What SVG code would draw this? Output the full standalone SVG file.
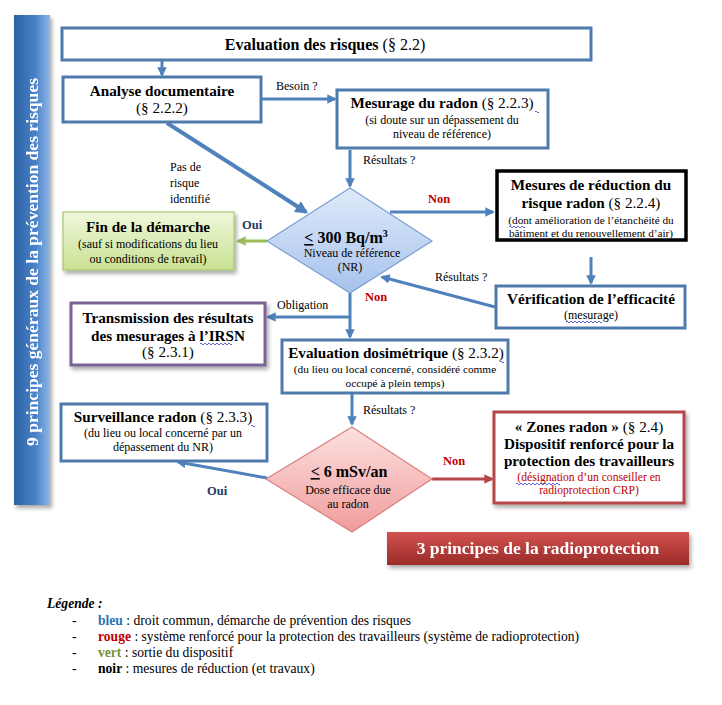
<svg xmlns="http://www.w3.org/2000/svg" width="722" height="705" viewBox="0 0 722 705" font-family="'Liberation Serif', 'DejaVu Serif', serif">
<defs>
<style>
svg text, svg tspan{font-family:'Liberation Serif','DejaVu Serif',serif}
text{fill:#000}
.h{font-size:15.2px;font-weight:bold}
.n{font-size:15.2px;font-weight:normal}
.s{font-size:12px}
.xs{font-size:11.2px}
.lbl{font-size:12px}
.box{fill:#fff;stroke:#4f7aac;stroke-width:3}
.con{fill:none;stroke:#4f81bd;stroke-width:3}
.non{font-size:12.5px;font-weight:bold;fill:#c00000}
.oui{font-size:12.5px;font-weight:bold;fill:#1f3864}
.leg{font-size:13.6px}
.sq{fill:none;stroke:#3c3cc8;stroke-width:0.8}
</style>
<linearGradient id="gSide" x1="0" y1="0" x2="1" y2="0">
<stop offset="0" stop-color="#2d62a6"/><stop offset="0.6" stop-color="#4a82c8"/><stop offset="1" stop-color="#8fb6e6"/>
</linearGradient>
<linearGradient id="gBlue" x1="0" y1="0" x2="0" y2="1">
<stop offset="0" stop-color="#dfeafa"/><stop offset="1" stop-color="#a6c2ec"/>
</linearGradient>
<linearGradient id="gPink" x1="0" y1="0" x2="0" y2="1">
<stop offset="0" stop-color="#fde0e0"/><stop offset="1" stop-color="#f09c9c"/>
</linearGradient>
<linearGradient id="gGreen" x1="0" y1="0" x2="0" y2="1">
<stop offset="0" stop-color="#f0f8dc"/><stop offset="1" stop-color="#c8e191"/>
</linearGradient>
<linearGradient id="gRed" x1="0" y1="0" x2="0" y2="1">
<stop offset="0" stop-color="#d2524f"/><stop offset="1" stop-color="#9a2b28"/>
</linearGradient>
<filter id="sh" x="-10%" y="-10%" width="125%" height="135%">
<feGaussianBlur in="SourceAlpha" stdDeviation="2"/>
<feOffset dx="2" dy="3" result="b"/>
<feComponentTransfer><feFuncA type="linear" slope="0.35"/></feComponentTransfer>
<feMerge><feMergeNode/><feMergeNode in="SourceGraphic"/></feMerge>
</filter>
<marker id="aB" viewBox="0 0 10 10" refX="8" refY="5" markerWidth="3.2" markerHeight="3.2" orient="auto" markerUnits="strokeWidth">
<path d="M0,0 L10,5 L0,10 Z" fill="#4f81bd"/>
</marker>
<marker id="aG" viewBox="0 0 10 10" refX="8" refY="5" markerWidth="3.2" markerHeight="3.2" orient="auto" markerUnits="strokeWidth">
<path d="M0,0 L10,5 L0,10 Z" fill="#9bbb59"/>
</marker>
<marker id="aR" viewBox="0 0 10 10" refX="8" refY="5" markerWidth="3.2" markerHeight="3.2" orient="auto" markerUnits="strokeWidth">
<path d="M0,0 L10,5 L0,10 Z" fill="#b5474a"/>
</marker>
</defs>
<rect width="722" height="705" fill="#fff"/>

<g id="sidebar" filter="url(#sh)">
<rect x="14" y="15" width="36" height="490" fill="url(#gSide)"/>
<text transform="translate(38,262) rotate(-90)" text-anchor="middle" style="font-size:16px;font-weight:bold;fill:#fff" textLength="368" lengthAdjust="spacingAndGlyphs">9 principes généraux de la prévention des risques</text>
</g>

<g id="connectors">
<line class="con" x1="162" y1="61" x2="162" y2="75" marker-end="url(#aB)"/>
<line class="con" x1="262" y1="99" x2="335" y2="99" marker-end="url(#aB)"/>
<line class="con" x1="350" y1="150" x2="350" y2="186" marker-end="url(#aB)"/>
<line class="con" style="stroke-width:4" x1="167" y1="123" x2="306" y2="212" marker-end="url(#aB)"/>
<line x1="267" y1="241" x2="238" y2="241" style="stroke:#9bbb59;stroke-width:3" marker-end="url(#aG)"/>
<line class="con" x1="390" y1="212" x2="493" y2="212" marker-end="url(#aB)"/>
<line class="con" x1="591" y1="257" x2="591" y2="283" marker-end="url(#aB)"/>
<line class="con" x1="495" y1="307" x2="382" y2="277" marker-end="url(#aB)"/>
<line class="con" x1="350" y1="293" x2="350" y2="337" marker-end="url(#aB)"/>
<line class="con" x1="350" y1="317" x2="268" y2="317" marker-end="url(#aB)"/>
<line class="con" x1="352" y1="394" x2="352" y2="424" marker-end="url(#aB)"/>
<line class="con" x1="267" y1="478" x2="178" y2="462" marker-end="url(#aB)"/>
<line x1="432" y1="479" x2="492" y2="479" style="stroke:#b5474a;stroke-width:3" marker-end="url(#aR)"/>
</g>

<g id="labels">
<text class="lbl" x="276" y="90">Besoin ?</text>
<text class="lbl" x="363" y="164">Résultats ?</text>
<text class="lbl" x="170" y="171">Pas de</text>
<text class="lbl" x="170" y="187">risque</text>
<text class="lbl" x="170" y="203">identifié</text>
<text class="oui" x="242" y="229">Oui</text>
<text class="non" x="428" y="203">Non</text>
<text class="lbl" x="435" y="281">Résultats ?</text>
<text class="non" x="365" y="301">Non</text>
<text class="lbl" x="277" y="309">Obligation</text>
<text class="lbl" x="363" y="414">Résultats ?</text>
<text class="non" x="443" y="465">Non</text>
<text class="oui" x="207" y="495">Oui</text>
</g>

<g id="eval-risques">
<rect class="box" x="62" y="28" width="529" height="32"/>
<text x="325" y="50" text-anchor="middle"><tspan style="font-size:16px;font-weight:bold">Evaluation des risques </tspan><tspan style="font-size:16px">(§ 2.2)</tspan></text>
</g>

<g id="analyse">
<rect class="box" x="63" y="77" width="198" height="45"/>
<text class="h" x="162" y="96" text-anchor="middle">Analyse documentaire</text>
<text class="n" x="162" y="113" text-anchor="middle">(§ 2.2.2)</text>
</g>

<g id="mesurage">
<rect class="box" x="337" y="90" width="211" height="58"/>
<text x="442" y="108" text-anchor="middle"><tspan class="h">Mesurage du radon </tspan><tspan class="n">(§ 2.2.3)</tspan></text>
<text class="s" x="442" y="124" text-anchor="middle">(si doute sur un dépassement du</text>
<text class="s" x="442" y="138" text-anchor="middle">niveau de référence)</text>
<path class="sq" d="M535,112 q1,-2 2,0 q1,2 2,0"/>
</g>

<g id="seuil-radon">
<polygon points="350,188 432,241 350,293 267,241" fill="url(#gBlue)" stroke="#7c9fd0" stroke-width="1.2"/>
<text x="346" y="243" text-anchor="middle" style="font-size:16px;font-weight:bold"><tspan text-decoration="underline">&lt;</tspan> 300 Bq/m<tspan style="font-size:10px" dy="-6">3</tspan></text>
<text class="s" x="352" y="257" text-anchor="middle">Niveau de référence</text>
<text class="s" x="350" y="271" text-anchor="middle">(NR)</text>
</g>

<g id="fin">
<rect x="63" y="212" width="171" height="58" fill="url(#gGreen)" stroke="#a9c66e" stroke-width="1.2" filter="url(#sh)"/>
<text class="h" x="148" y="232" text-anchor="middle">Fin de la démarche</text>
<text class="s" x="148" y="248" text-anchor="middle">(sauf si modifications  du lieu</text>
<text class="s" x="148" y="263" text-anchor="middle">ou conditions  de travail)</text>
</g>

<g id="mesures-reduction">
<rect x="497" y="171" width="189" height="69" fill="#fff" stroke="#000" stroke-width="3.5"/>
<text class="h" x="591" y="190" text-anchor="middle">Mesures de réduction du</text>
<text x="591" y="208" text-anchor="middle"><tspan class="h">risque radon </tspan><tspan class="n">(§ 2.2.4)</tspan></text>
<text class="xs" x="591" y="224" text-anchor="middle">(dont amélioration de l’étanchéité du</text>
<text class="xs" x="591" y="237" text-anchor="middle">bâtiment et du renouvellement d’air)</text>
<path class="sq" d="M509,227 q1,-2 2,0 q1,2 2,0 q1,-2 2,0 q1,2 2,0 q1,-2 2,0 q1,2 2,0 q1,-2 2,0 q1,2 2,0"/>
</g>

<g id="verification">
<rect class="box" x="496" y="286" width="189" height="42"/>
<text class="h" x="591" y="304" text-anchor="middle">Vérification de l’efficacité</text>
<text class="s" x="591" y="319" text-anchor="middle">(mesurage)</text>
<path class="sq" d="M566,322 q1,-2 2,0 q1,2 2,0 q1,-2 2,0 q1,2 2,0 q1,-2 2,0 q1,2 2,0 q1,-2 2,0 q1,2 2,0 q1,-2 2,0 q1,2 2,0 q1,-2 2,0 q1,2 2,0 q1,-2 2,0 q1,2 2,0 q1,-2 2,0 q1,2 2,0 q1,-2 2,0 q1,2 2,0"/>
</g>

<g id="transmission">
<rect x="71" y="303" width="194" height="62" fill="#fff" stroke="#7b6496" stroke-width="3" filter="url(#sh)"/>
<text class="h" x="168" y="323" text-anchor="middle">Transmission des résultats</text>
<text class="h" x="168" y="341" text-anchor="middle">des mesurages à l’IRSN</text>
<text class="n" x="168" y="357" text-anchor="middle">(§ 2.3.1)</text>
<path class="sq" d="M200,344 q1,-2 2,0 q1,2 2,0 q1,-2 2,0 q1,2 2,0 q1,-2 2,0 q1,2 2,0 q1,-2 2,0 q1,2 2,0 q1,-2 2,0 q1,2 2,0 q1,-2 2,0 q1,2 2,0 q1,-2 2,0 q1,2 2,0 q1,-2 2,0 q1,2 2,0"/>
</g>

<g id="eval-dosimetrique">
<rect class="box" x="282" y="340" width="226" height="53"/>
<text x="396" y="358" text-anchor="middle"><tspan class="h">Evaluation dosimétrique </tspan><tspan class="n">(§ 2.3.2)</tspan></text>
<text x="395" y="373" text-anchor="middle" style="font-size:11.3px">(du lieu ou local concerné, considéré comme</text>
<text x="395" y="387" text-anchor="middle" style="font-size:11.3px">occupé à plein temps)</text>
<path class="sq" d="M500,362 q1,-2 2,0 q1,2 2,0"/>
</g>

<g id="surveillance">
<rect class="box" x="61" y="404" width="206" height="57"/>
<text x="163" y="422" text-anchor="middle"><tspan class="h">Surveillance radon </tspan><tspan class="n">(§ 2.3.3)</tspan></text>
<text class="s" x="163" y="437" text-anchor="middle">(du lieu ou local concerné par un</text>
<text class="s" x="163" y="451" text-anchor="middle">dépassement du NR)</text>
<path class="sq" d="M251,426 q1,-2 2,0 q1,2 2,0"/>
</g>

<g id="seuil-dose">
<polygon points="352,427 432,479 352,532 266,479" fill="url(#gPink)" stroke="#d98080" stroke-width="1.2"/>
<text x="349" y="477" text-anchor="middle" style="font-size:16px;font-weight:bold"><tspan text-decoration="underline">&lt;</tspan> 6 mSv/an</text>
<text class="s" x="348" y="494" text-anchor="middle">Dose efficace  due</text>
<text class="s" x="348" y="508" text-anchor="middle">au radon</text>
</g>

<g id="zones-radon">
<rect x="494" y="412" width="190" height="91" fill="#fff" stroke="#b5474a" stroke-width="3" filter="url(#sh)"/>
<text x="589" y="432" text-anchor="middle"><tspan class="h">« Zones radon » </tspan><tspan class="n">(§ 2.4)</tspan></text>
<text class="h" x="589" y="449" text-anchor="middle">Dispositif renforcé pour la</text>
<text class="h" x="589" y="466" text-anchor="middle">protection des travailleurs</text>
<text x="589" y="481" text-anchor="middle" style="font-size:11.6px;fill:#c00000">(désignation d’un conseiller  en</text>
<text x="589" y="494" text-anchor="middle" style="font-size:11.6px;fill:#c00000">radioprotection  CRP)</text>
<path class="sq" d="M516,484 q1,-2 2,0 q1,2 2,0 q1,-2 2,0 q1,2 2,0 q1,-2 2,0 q1,2 2,0 q1,-2 2,0 q1,2 2,0 q1,-2 2,0 q1,2 2,0 q1,-2 2,0 q1,2 2,0 q1,-2 2,0 q1,2 2,0 q1,-2 2,0 q1,2 2,0 q1,-2 2,0 q1,2 2,0 q1,-2 2,0 q1,2 2,0 q1,-2 2,0 q1,2 2,0"/>
</g>

<g id="radioprotection" filter="url(#sh)">
<rect x="387" y="532" width="302" height="33" fill="url(#gRed)"/>
<text x="538" y="554" text-anchor="middle" style="font-size:17.5px;font-weight:bold;fill:#fff">3 principes de la radioprotection</text>
</g>

<g id="legende">
<text x="47" y="608" style="font-size:13.6px;font-weight:bold;font-style:italic">Légende :</text>
<text class="leg" x="72" y="625">-</text>
<text class="leg" x="98" y="625"><tspan style="font-weight:bold;fill:#2e74b5">bleu</tspan> : droit commun, démarche de prévention des risques</text>
<text class="leg" x="72" y="641">-</text>
<text class="leg" x="98" y="641"><tspan style="font-weight:bold;fill:#c00000">rouge</tspan> : système renforcé pour la protection des travailleurs (système de radioprotection)</text>
<text class="leg" x="72" y="657">-</text>
<text class="leg" x="98" y="657"><tspan style="font-weight:bold;fill:#76923c">vert</tspan> : sortie du dispositif</text>
<text class="leg" x="72" y="673">-</text>
<text class="leg" x="98" y="673"><tspan style="font-weight:bold">noir</tspan> : mesures de réduction (et travaux)</text>
</g>
</svg>
